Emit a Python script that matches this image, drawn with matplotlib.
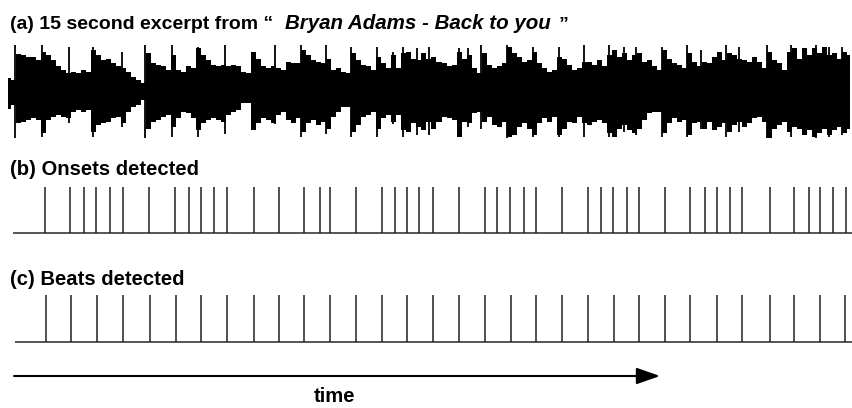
import matplotlib
matplotlib.use("Agg")
import matplotlib.pyplot as plt
import numpy as np

plt.rcParams['font.family'] = ['Liberation Sans', 'DejaVu Sans']

# ---------------- data (time in seconds, 15 s excerpt) ----------------
DURATION = 15.0

# waveform envelope (fraction of full scale), sampled on a regular grid over 15 s
env_upper = [
    0.29, 0.25, 0.80, 0.79, 0.75, 0.75, 0.68, 0.85, 0.79, 0.68, 0.54, 0.46, 0.39, 0.43,
    0.39, 0.46, 0.43, 0.89, 0.79, 0.68, 0.71, 0.61, 0.54, 0.50, 0.43, 0.32, 0.25, 0.18,
    0.82, 0.61, 0.57, 0.54, 0.46, 0.79, 0.46, 0.43, 0.54, 0.50, 0.93, 0.79, 0.68, 0.57,
    0.54, 0.57, 0.54, 0.57, 0.54, 0.43, 0.39, 0.86, 0.71, 0.54, 0.50, 0.54, 0.50, 0.46,
    0.64, 0.61, 0.61, 0.89, 0.79, 0.68, 0.64, 0.61, 0.71, 0.46, 0.50, 0.43, 0.39, 0.82,
    0.68, 0.57, 0.54, 0.46, 0.75, 0.61, 0.50, 0.79, 0.50, 0.82, 0.86, 0.71, 0.68, 0.82, 0.71,
    0.75, 0.64, 0.61, 0.54, 0.57, 0.86, 0.71, 0.79, 0.50, 0.39, 0.82, 0.57, 0.50, 0.54,
    0.61, 0.96, 0.82, 0.75, 0.64, 0.68, 0.86, 0.61, 0.50, 0.43, 0.46, 0.75, 0.71, 0.57,
    0.46, 0.50, 0.64, 0.64, 0.57, 0.68, 0.54, 0.79, 0.89, 0.75, 0.82, 0.68, 0.79, 0.82,
    0.64, 0.68, 0.54, 0.46, 0.89, 0.71, 0.61, 0.57, 0.50, 0.82, 0.64, 0.54, 0.64, 0.61,
    0.75, 0.86, 0.68, 0.82, 0.79, 0.71, 0.68, 0.64, 0.75, 0.64, 0.50, 0.86, 0.68, 0.61,
    0.46, 0.86, 0.93, 0.71, 0.93, 0.79, 0.93, 0.82, 0.96, 0.79, 0.82, 0.71, 0.86, 0.79,
]
env_lower = [
    0.36, 0.29, 0.68, 0.64, 0.61, 0.57, 0.61, 0.89, 0.61, 0.54, 0.50, 0.54, 0.57, 0.43,
    0.39, 0.43, 0.39, 0.86, 0.71, 0.68, 0.64, 0.57, 0.54, 0.68, 0.43, 0.32, 0.29, 0.18,
    0.79, 0.64, 0.61, 0.54, 0.50, 0.75, 0.57, 0.43, 0.46, 0.57, 0.82, 0.68, 0.61, 0.57,
    0.61, 0.64, 0.50, 0.43, 0.39, 0.25, 0.25, 0.82, 0.68, 0.57, 0.61, 0.68, 0.50, 0.43,
    0.61, 0.68, 0.57, 0.86, 0.68, 0.61, 0.71, 0.64, 0.79, 0.54, 0.43, 0.32, 0.32, 0.86,
    0.71, 0.54, 0.50, 0.43, 0.79, 0.57, 0.50, 0.64, 0.50, 0.82, 0.86, 0.68, 0.75, 0.82, 0.64,
    0.79, 0.64, 0.54, 0.57, 0.61, 0.96, 0.64, 0.68, 0.46, 0.43, 0.64, 0.54, 0.71, 0.75,
    0.64, 0.96, 0.93, 0.75, 0.68, 0.79, 0.93, 0.68, 0.57, 0.64, 0.54, 0.93, 0.79, 0.64,
    0.68, 0.54, 0.68, 0.71, 0.64, 0.61, 0.68, 0.89, 0.96, 0.79, 0.71, 0.82, 0.89, 0.79,
    0.61, 0.46, 0.43, 0.43, 0.89, 0.68, 0.57, 0.64, 0.61, 0.93, 0.68, 0.64, 0.79, 0.64,
    0.82, 0.75, 0.68, 0.86, 0.71, 0.64, 0.75, 0.68, 0.57, 0.54, 0.64, 1.00, 0.79, 0.71,
    0.64, 0.86, 0.75, 0.79, 0.93, 0.82, 0.96, 0.89, 0.79, 0.93, 0.82, 0.75, 0.89, 0.79,
]

# sharp transients in the waveform
spike_t = [0.125, 0.606, 1.087, 1.514, 2.031, 2.441, 2.922, 3.385,
           3.866, 4.757, 5.220, 5.665, 6.111, 6.574, 6.859, 7.037, 7.287,
           7.501, 8.035, 8.195, 8.427, 8.890, 9.353, 9.816, 10.262, 10.707, 10.974, 11.188,
           11.652, 12.097, 12.346, 12.792, 13.024, 13.522, 13.950, 14.395, 14.627, 14.859]
spike_top = [1.0, 1.0, 0.96, 0.96, 0.86, 1.0, 1.0, 0.96,
             1.0, 1.0, 1.0, 1.0, 0.96, 0.96, 0.86, 0.96, 0.93,
             0.96, 0.93, 0.93, 1.0, 1.0, 0.96, 0.96, 1.0, 1.0, 0.96, 0.96,
             0.96, 1.0, 0.9, 1.0, 0.96, 1.0, 1.0, 1.0, 0.96, 0.96]
spike_bot = [1.0, 0.96, 0.68, 0.96, 0.75, 1.0, 0.96, 0.96,
             0.9, 0.7, 0.96, 0.9, 0.96, 0.96, 0.7, 0.96, 0.93,
             0.93, 0.96, 0.75, 0.8, 1.0, 0.96, 0.96, 0.96, 0.96, 0.86, 0.93,
             0.96, 0.96, 0.8, 0.96, 0.86, 1.0, 0.96, 1.0, 0.96, 0.93]

onsets = [0.66, 1.11, 1.35, 1.57, 1.82, 2.04, 2.51, 2.98, 3.23, 3.44, 3.67, 3.90,
          4.38, 4.82, 5.28, 5.55, 5.74, 6.20, 6.66, 6.90, 7.10, 7.33, 7.57, 8.03,
          8.49, 8.72, 8.95, 9.19, 9.41, 9.87, 10.33, 10.57, 10.78, 11.03, 11.25,
          11.71, 12.15, 12.41, 12.63, 12.86, 13.08, 13.57, 14.00, 14.27, 14.47,
          14.69, 14.93]

beats = [0.67, 1.13, 1.59, 2.05, 2.53, 2.99, 3.44, 3.90, 4.38, 4.82, 5.28, 5.74,
         6.20, 6.66, 7.11, 7.57, 8.03, 8.49, 8.96, 9.41, 9.87, 10.33, 10.79, 11.25,
         11.71, 12.15, 12.63, 13.08, 13.57, 14.00, 14.47, 14.92]

title_a = "(a) 15 second excerpt from \u201c"
title_song = "Bryan Adams - Back to you"
title_b = "(b) Onsets detected"
title_c = "(c) Beats detected"
time_label = "time"

# ---------------- layout ----------------
W, H = 853, 408
fig = plt.figure(figsize=(W / 100, H / 100), dpi=100)
PX_PER_S = 56.13
X0 = 8.0
XLIM = (-X0 / PX_PER_S, (W - X0) / PX_PER_S)


def panel(top_px, bottom_px, ylim):
    ax = fig.add_axes([0, 1 - bottom_px / H, 1, (bottom_px - top_px) / H])
    ax.set_xlim(*XLIM)
    ax.set_ylim(*ylim)
    ax.axis('off')
    return ax


FS = 14.6

# (a) waveform
ax_a = panel(45.0, 138.4, (-1, 1))
env_t = np.linspace(0, DURATION, len(env_upper))
ax_a.fill_between(env_t, -np.array(env_lower), np.array(env_upper),
                  step='mid', color='black', lw=0)
ax_a.vlines(spike_t, -np.array(spike_bot), np.array(spike_top),
            color='black', lw=1.3)

# (b) onsets
ax_b = panel(186.7, 232.7, (0, 1))
ax_b.hlines(0, 0.09, XLIM[1], color='#555555', lw=1.4, clip_on=False)
ax_b.vlines(onsets, 0, 1, color='#222222', lw=1.1, clip_on=False)

# (c) beats
ax_c = panel(295.0, 342.0, (0, 1))
ax_c.hlines(0, 0.12, XLIM[1], color='#555555', lw=1.4, clip_on=False)
ax_c.vlines(beats, 0, 1, color='#222222', lw=1.1, clip_on=False)

# time arrow
ax_c.annotate('', xy=(660, H - 376), xytext=(14, H - 376),
              xycoords='figure pixels', textcoords='figure pixels',
              arrowprops=dict(arrowstyle='-|>,head_length=0.8,head_width=0.28',
                              mutation_scale=18, lw=1.5, color='black',
                              shrinkA=0, shrinkB=0))
fig.text(335 / W, 1 - 396 / H, time_label, ha='center', va='center',
         fontsize=FS, fontweight='bold')

# titles
fig.text(10 / W, 1 - 175 / H, title_b, fontsize=FS, fontweight='bold', va='baseline')
fig.text(10 / W, 1 - 285 / H, title_c, fontsize=FS, fontweight='bold', va='baseline')

ya = 1 - 29 / H
t1 = fig.text(10 / W, ya, title_a, fontsize=14.0, fontweight='bold', va='baseline')
renderer = fig.canvas.get_renderer()
bb1 = t1.get_window_extent(renderer)
t2 = fig.text((bb1.x1 + 12) / W, ya, title_song, fontsize=14.8, fontweight='bold',
              style='italic', va='baseline')
bb2 = t2.get_window_extent(renderer)
fig.text((bb2.x1 + 8) / W, ya, "\u201d", fontsize=14.0, fontweight='bold', va='baseline')

fig.savefig('out.png', dpi=100)
